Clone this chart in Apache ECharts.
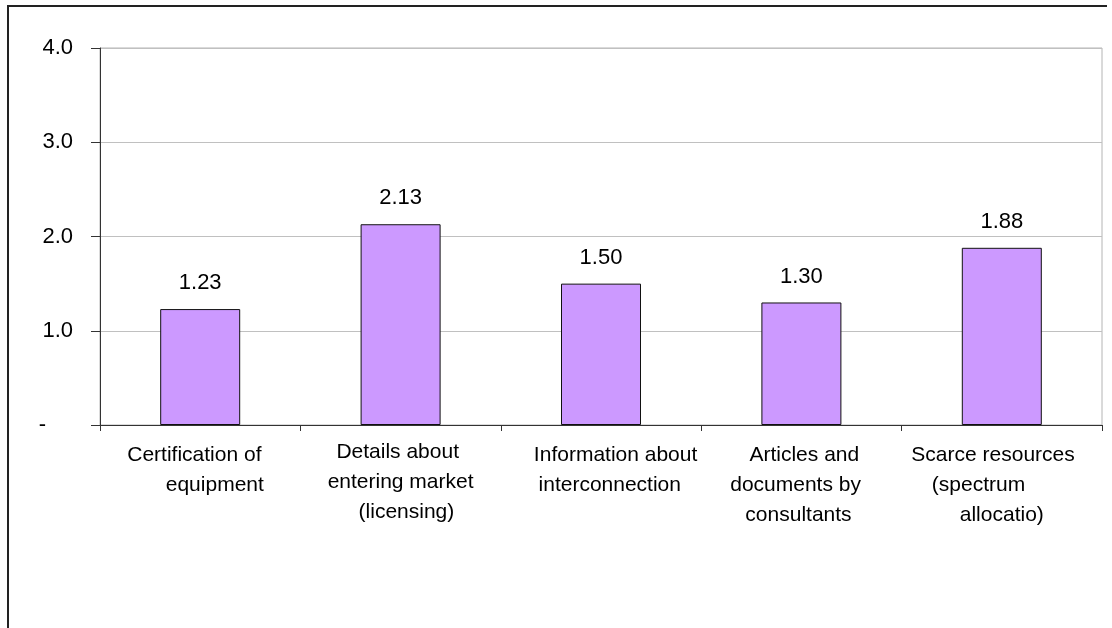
<!DOCTYPE html>
<html>
<head>
<meta charset="utf-8">
<script src="https://cdn.jsdelivr.net/npm/echarts@6/dist/echarts.min.js"></script>
<style>
  html, body { margin: 0; padding: 0; background: #fff; }
  #chart { width: 1112px; height: 628px; }
</style>
</head>
<body>
<div id="chart"></div>
<script>
// Category labels (line breaks and spacing as laid out under each bar)
const categories = [
  'Certification of  \n     equipment',
  'Details about \nentering market\n  (licensing)',
  '     Information about\n   interconnection',
  ' Articles and\ndocuments by  \nconsultants ',
  'Scarce resources   \n(spectrum        \nallocatio)'
];
// Average scores per information type
const scores = [1.23, 2.13, 1.50, 1.30, 1.88];
// Value axis ticks
const yMin = 0;
const yMax = 4;
const yStep = 1;

const FONT = '"Liberation Sans", Arial, sans-serif';

// The second label sits slightly higher than the others
const labelPadTop = [3, 0, 3, 3, 3];
const categoryData = categories.map((name, i) => ({
  value: name,
  textStyle: { padding: [labelPadTop[i], 0, 0, 0] }
}));

const chart = echarts.init(document.getElementById('chart'), null, { renderer: 'canvas' });

chart.setOption({
  animation: false,
  backgroundColor: '#ffffff',
  grid: {
    left: 100, right: 10, top: 48, bottom: 203,
    show: true,
    borderColor: '#b4b4b4',
    borderWidth: 1,
    backgroundColor: 'transparent'
  },
  graphic: [{
    type: 'polyline',
    shape: { points: [[8, 700], [8, 6], [1107, 6]] },
    style: { stroke: '#222', lineWidth: 2, fill: null },
    silent: true
  }],
  xAxis: {
    type: 'category',
    data: categoryData,
    boundaryGap: true,
    axisLine: { show: true, lineStyle: { color: '#333', width: 1 } },
    axisTick: { show: true, length: 6, inside: false, lineStyle: { color: '#333' } },
    axisLabel: {
      interval: 0,
      margin: 12,
      color: '#000',
      fontFamily: FONT,
      fontSize: 21,
      lineHeight: 30,
      align: 'center'
    },
    splitLine: { show: false }
  },
  yAxis: {
    type: 'value',
    min: yMin, max: yMax, interval: yStep,
    axisLine: { show: true, lineStyle: { color: '#333', width: 1 } },
    axisTick: { show: true, length: 9, lineStyle: { color: '#333' } },
    axisLabel: {
      margin: 27,
      color: '#000',
      fontFamily: FONT,
      fontSize: 22,
      formatter: v => v === 0 ? '{d|-}' : v.toFixed(1),
      rich: { d: { fontFamily: FONT, fontSize: 22, color: '#000', padding: [0, 27, 0, 0] } }
    },
    splitLine: { show: true, lineStyle: { color: '#c0c0c0', width: 1 } }
  },
  series: [{
    type: 'bar',
    data: scores,
    barWidth: 80,
    itemStyle: { color: '#cc99ff', borderColor: '#111', borderWidth: 1 },
    label: {
      show: true,
      position: 'top',
      distance: 15,
      color: '#000',
      fontFamily: FONT,
      fontSize: 22,
      formatter: p => p.value.toFixed(2)
    }
  }]
});
</script>
</body>
</html>
